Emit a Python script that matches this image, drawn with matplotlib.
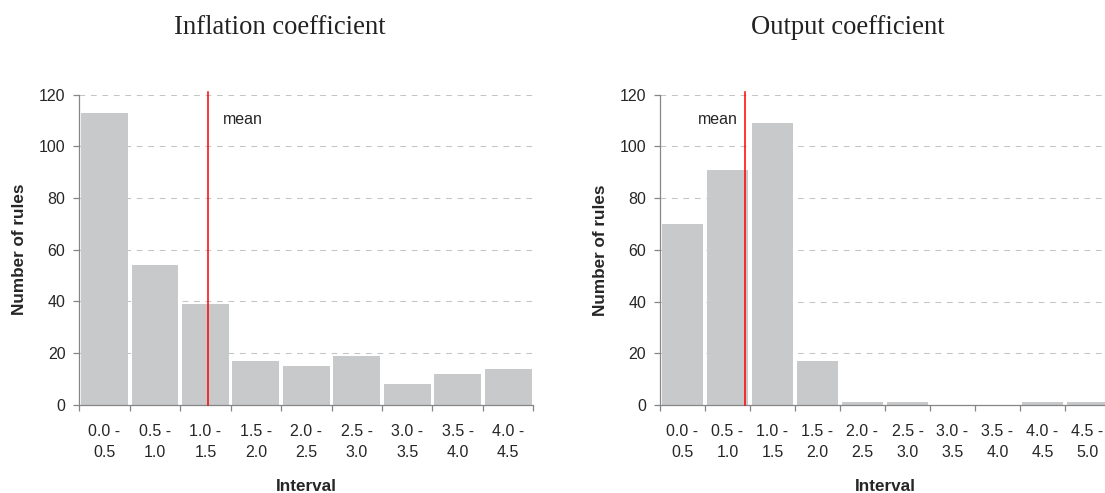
import matplotlib
matplotlib.use("Agg")
import matplotlib.pyplot as plt
import numpy as np

# interval labels (two lines, Excel style)
infl_labels = ["0.0 -\n0.5", "0.5 -\n1.0", "1.0 -\n1.5", "1.5 -\n2.0", "2.0 -\n2.5",
               "2.5 -\n3.0", "3.0 -\n3.5", "3.5 -\n4.0", "4.0 -\n4.5"]
infl_counts = [113, 54, 39, 17, 15, 19, 8, 12, 14]
infl_mean = 1.28

out_labels = ["0.0 -\n0.5", "0.5 -\n1.0", "1.0 -\n1.5", "1.5 -\n2.0", "2.0 -\n2.5",
              "2.5 -\n3.0", "3.0 -\n3.5", "3.5 -\n4.0", "4.0 -\n4.5", "4.5 -\n5.0"]
out_counts = [70, 91, 109, 17, 1, 1, 0, 0, 1, 1]
out_mean = 0.94

bin_width = 0.5

W, H = 1105, 493
fig = plt.figure(figsize=(W / 100, H / 100), dpi=100)
plt.rcParams['font.family'] = ['Liberation Sans', 'DejaVu Sans']

BAR = '#C8C9CB'
AXC = '#868686'
GRID = '#C4C4C4'
TXT = '#262626'


def px_axes(x0, x1, ytop, ybot):
    return fig.add_axes([x0 / W, (H - ybot) / H, (x1 - x0) / W, (ybot - ytop) / H])


def draw_panel(ax, labels, counts, mean, text_side):
    n = len(counts)
    x = np.arange(n)
    ax.bar(x, counts, width=0.93, color=BAR, zorder=2)
    ax.set_xlim(-0.5, n - 0.5)
    ax.set_ylim(0, 120)

    # dashed gridlines
    ax.set_yticks(np.arange(0, 121, 20))
    ax.yaxis.grid(True, color=GRID, linestyle=(0, (5.5, 5.5)), linewidth=0.75, zorder=0)
    ax.set_axisbelow(True)

    # tick marks at the bin boundaries, labels at bin centres
    ax.set_xticks(np.arange(n + 1) - 0.5)
    ax.set_xticklabels([])
    ax.set_xticks(x, minor=True)
    ax.set_xticklabels(labels, minor=True, fontsize=11.5, color=TXT, linespacing=1.45)
    ax.tick_params(axis='x', which='major', length=4, color=AXC, width=0.9)
    ax.tick_params(axis='x', which='minor', length=0, pad=14)
    ax.tick_params(axis='y', length=4, color=AXC, width=0.9, labelsize=11.5,
                   labelcolor=TXT, pad=6)

    for s in ['top', 'right']:
        ax.spines[s].set_visible(False)
    for s in ['left', 'bottom']:
        ax.spines[s].set_color(AXC)
        ax.spines[s].set_linewidth(0.9)

    ax.set_xlabel('Interval', fontsize=12.3, fontweight='bold', color=TXT, labelpad=14)
    ax.set_ylabel('Number of rules', fontsize=12.3, fontweight='bold', color=TXT, labelpad=8.5)

    # mean line
    mx = mean / bin_width - 0.5
    ax.plot([mx, mx], [0, 121.2], color='#FF0000', linewidth=1.1, zorder=3, clip_on=False)
    if text_side == 'right':
        ax.annotate('mean', (mx, 108.5), xytext=(14, 0), textcoords='offset pixels',
                    ha='left', va='baseline', fontsize=11.5, color=TXT)
    else:
        ax.annotate('mean', (mx, 108.5), xytext=(-7, 0), textcoords='offset pixels',
                    ha='right', va='baseline', fontsize=11.5, color=TXT)


ax1 = px_axes(79.3, 533.3, 94.7, 404.7)
draw_panel(ax1, infl_labels, infl_counts, infl_mean, 'right')

ax2 = px_axes(660, 1110, 94.7, 405)
draw_panel(ax2, out_labels, out_counts, out_mean, 'left')

fig.text(279.5 / W, (H - 34) / H, 'Inflation coefficient', ha='center', va='baseline',
         fontsize=19.2, family='Liberation Serif', color='#222222')
fig.text(848 / W, (H - 34) / H, 'Output coefficient', ha='center', va='baseline',
         fontsize=19.2, family='Liberation Serif', color='#222222')

fig.savefig('out.png', dpi=100)
